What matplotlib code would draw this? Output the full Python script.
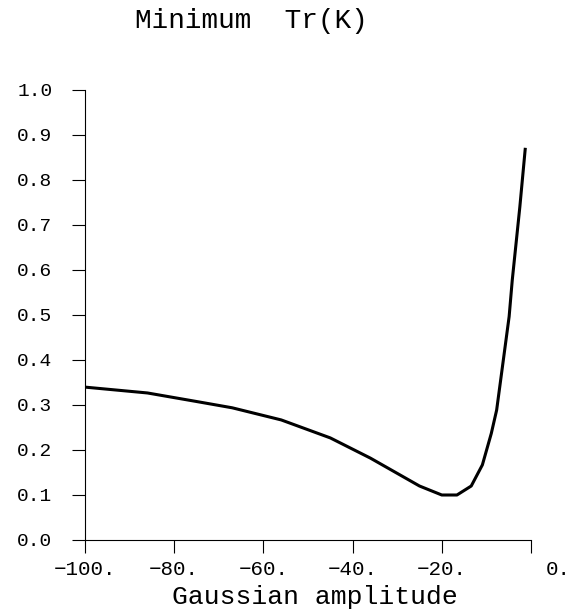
import matplotlib
matplotlib.use('Agg')
import matplotlib.pyplot as plt
import matplotlib.transforms as mtransforms

plt.rcParams['font.family'] = ['Liberation Mono', 'DejaVu Sans Mono']

# values
amplitude = [-100, -86, -75, -67, -56, -45, -36, -25, -20, -16.6, -13.4, -10.9, -8.9, -7.7, -6.3, -4.9, -4.2, -2.5, -1.3]
min_tr = [0.339, 0.326, 0.307, 0.293, 0.266, 0.226, 0.181, 0.119, 0.099, 0.099, 0.119, 0.166, 0.236, 0.288, 0.392, 0.496, 0.577, 0.740, 0.868]

x_ticks = [-100, -80, -60, -40, -20, 0]
x_labels = ['\u2212100.', '\u221280.', '\u221260.', '\u221240.', '\u221220.', '0.']
y_ticks = [0.0, 0.1, 0.2, 0.3, 0.4, 0.5, 0.6, 0.7, 0.8, 0.9, 1.0]
y_labels = ['%.1f' % v for v in y_ticks]

fig = plt.figure(figsize=(5.69, 6.13), dpi=100)
ax = fig.add_axes([0.1494, 0.1199, 0.7838, 0.7333])

ax.plot(amplitude, min_tr, color='black', linewidth=2.2)

ax.set_xlim(-100, 0)
ax.set_ylim(0, 1.0)
ax.set_xticks(x_ticks)
ax.set_xticklabels(x_labels, fontsize=15)
ax.set_yticks(y_ticks)
ax.set_yticklabels(y_labels, fontsize=14)

ax.spines['top'].set_visible(False)
ax.spines['right'].set_visible(False)
for s in ['left', 'bottom']:
    ax.spines[s].set_linewidth(0.8)
ax.tick_params(axis='x', direction='out', length=9.4, width=0.8, pad=5)
ax.tick_params(axis='y', direction='out', length=9.4, width=0.8, pad=14)

# the "0." label sits to the right of its tick in the reference
lab = ax.get_xticklabels()[-1]
lab.set_transform(lab.get_transform() + mtransforms.ScaledTranslation(0.27, 0, fig.dpi_scale_trans))

fig.text(0.441, 0.965, 'Minimum  Tr(K)', fontsize=20, ha='center', va='center')
fig.text(0.554, 0.026, 'Gaussian amplitude', fontsize=19, ha='center', va='center')

fig.savefig('out.png', dpi=100)
